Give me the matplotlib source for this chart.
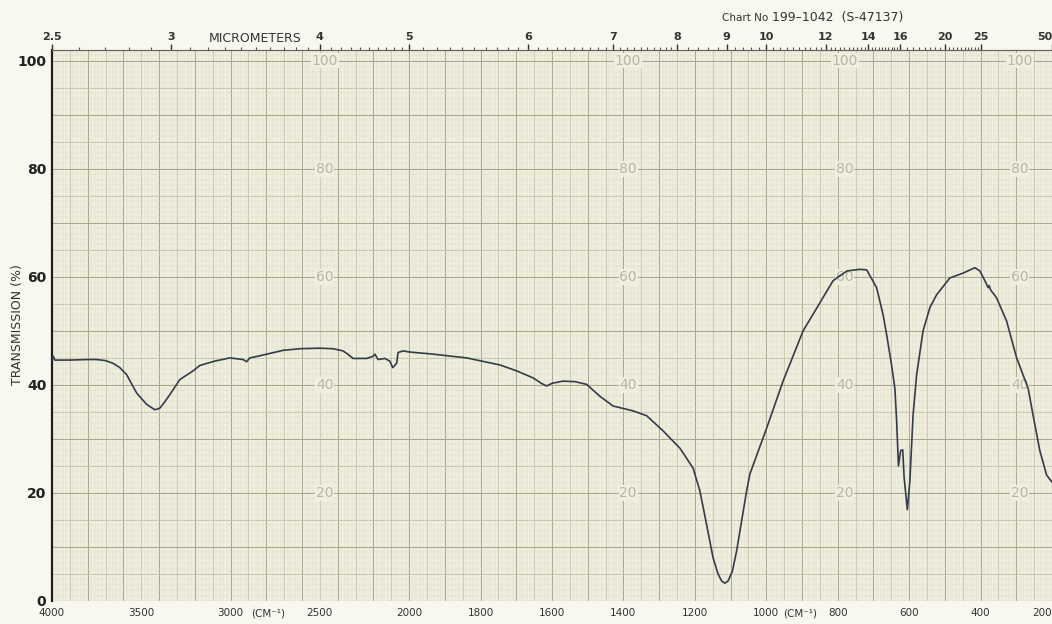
import numpy as np
import matplotlib
matplotlib.use("Agg")
import matplotlib.pyplot as plt

# ---------------- data ----------------
wavenumber = [4000, 3992, 3985, 3900, 3800, 3750, 3700, 3658, 3620, 3582, 3526, 3470,
              3424, 3396, 3370, 3340, 3284, 3210, 3172, 3090, 3004, 2930, 2910, 2892,
              2836, 2706, 2612, 2500, 2426, 2370, 2340, 2314, 2238, 2202, 2192, 2174,
              2136, 2108, 2092, 2070, 2062, 2034, 2000, 1933, 1839, 1746, 1699, 1653,
              1630, 1615, 1600, 1569, 1535, 1503, 1466, 1429, 1373, 1335, 1289, 1242,
              1205, 1186, 1167, 1149, 1135, 1125, 1116, 1107, 1095, 1083, 1055, 1046,
              999, 953, 897, 858, 813, 774, 738, 719, 691, 673, 663, 650, 640, 635,
              630, 624, 618, 614, 605, 598, 589, 579, 561, 542, 523, 486, 449, 416,
              402, 388, 383, 379, 376, 372, 355, 327, 299, 267, 253, 234, 215, 200]
transmission = [44.6, 45.3, 44.6, 44.6, 44.7, 44.7, 44.5, 44.0, 43.2, 41.9, 38.5, 36.4,
                35.4, 35.7, 36.8, 38.2, 41.0, 42.6, 43.6, 44.4, 45.0, 44.7, 44.3, 45.0,
                45.4, 46.4, 46.7, 46.8, 46.7, 46.3, 45.6, 44.9, 44.9, 45.3, 45.7, 44.7,
                44.9, 44.4, 43.2, 44.0, 46.0, 46.3, 46.1, 45.7, 45.0, 43.7, 42.6, 41.3,
                40.3, 39.8, 40.3, 40.7, 40.6, 40.1, 37.9, 36.1, 35.2, 34.3, 31.5, 28.3,
                24.6, 20.4, 14.1, 8.0, 5.0, 3.7, 3.3, 3.7, 5.5, 9.3, 20.4, 23.5,
                32.0, 40.7, 50.0, 54.3, 59.3, 61.1, 61.4, 61.3, 58.0, 53.0, 49.3, 44.0, 39.4, 33.3,
                25.0, 27.8, 28.0, 22.8, 16.9, 22.2, 34.4, 41.9, 50.0, 54.3, 56.7, 59.8, 60.7, 61.7,
                61.1, 59.3, 58.6, 58.0, 58.4, 57.6, 56.1, 51.8, 45.0, 39.4, 34.4, 27.8, 23.3, 22.0]

bottom_ticks = [4000, 3500, 3000, 2500, 2000, 1800, 1600, 1400, 1200, 1000, 800, 600, 400, 200]
y_ticks = [0, 20, 40, 60, 80, 100]
micron_ticks = [2.5, 3, 4, 5, 6, 7, 8, 9, 10, 12, 14, 16, 20, 25, 50]
micron_labels = ["2.5", "3", "4", "5", "6", "7", "8", "9", "10", "12", "14", "16", "20", "25", "50"]
inner_label_wn = [2472, 1387, 780, 290]
inner_label_vals = [20, 40, 60, 80, 100]

# ---------------- scale: 4000-2000 compressed 2x relative to 2000-200 ----------------
def fwd(w):
    w = np.asarray(w, float)
    return np.where(w < 2000, w, 2000 + (w - 2000) / 2.0)

def inv(p):
    p = np.asarray(p, float)
    return np.where(p < 2000, p, 2000 + 2.0 * (p - 2000))

W, H = 1052, 624
paper = "#f0eedf"
fig = plt.figure(figsize=(W / 100, H / 100), dpi=100, facecolor="#f8f7f0")
ax = fig.add_axes([52 / W, 23 / H, 1000 / W, 551 / H])
ax.set_xscale("function", functions=(fwd, inv))
ax.set_xlim(4000, 200)
ax.set_ylim(0, 102)
ax.set_facecolor(paper)

# ---------------- chart-paper grid ----------------
fine_c, med_c, heavy_c = "#d8d6c2", "#c0bea4", "#a9a78b"
v_fine = list(np.arange(2000, 4001, 20)) + list(np.arange(200, 2000, 10))
v_med = list(np.arange(2000, 4001, 100)) + list(np.arange(200, 2000, 50))
v_heavy = list(np.arange(2000, 4001, 200)) + list(np.arange(200, 2000, 100))
ax.vlines(v_fine, 0, 102, color=fine_c, lw=0.3, zorder=0)
ax.vlines(v_med, 0, 102, color=med_c, lw=0.5, zorder=0)
ax.vlines(v_heavy, 0, 102, color=heavy_c, lw=0.7, zorder=0)
ax.hlines(np.arange(0, 102, 1), 4000, 200, color=fine_c, lw=0.3, zorder=0)
ax.hlines(np.arange(0, 102, 5), 4000, 200, color=med_c, lw=0.5, zorder=0)
ax.hlines(np.arange(0, 101, 10), 4000, 200, color=heavy_c, lw=0.7, zorder=0)

# printed grey labels inside the paper
for wn in inner_label_wn:
    for v in inner_label_vals:
        ax.text(wn, v, str(v), ha="center", va="center", fontsize=10,
                color="#b8b6a2", zorder=1,
                bbox=dict(boxstyle="square,pad=0.05", fc=paper, ec="none"))

# ---------------- spectrum ----------------
ax.plot(wavenumber, transmission, color="#333c48", lw=1.2, zorder=3)

# ---------------- axes styling ----------------
for s in ["right", "bottom"]:
    ax.spines[s].set_visible(False)
ax.spines["left"].set_color("#1e1e1e")
ax.spines["left"].set_linewidth(1.6)
ax.spines["top"].set_color("#66665a")
ax.spines["top"].set_linewidth(0.8)

ax.set_yticks(y_ticks)
ax.set_yticklabels([str(v) for v in y_ticks], fontsize=10, fontweight="bold", color="#222222")
ax.tick_params(axis="y", length=0, pad=4)
ax.set_xticks(bottom_ticks)
xl = ax.set_xticklabels([str(v) for v in bottom_ticks], fontsize=7.5, color="#333333")
xl[-1].set_horizontalalignment("right")
ax.tick_params(axis="x", length=0, pad=5)
ax.xaxis.set_minor_locator(matplotlib.ticker.NullLocator())

fig.text(18 / W, 1 - 325 / H, "TRANSMISSION (%)", fontsize=9, color="#333333",
         rotation=90, ha="center", va="center")

# ---------------- micrometer axis on top ----------------
ax2 = ax.twiny()
ax2.set_xscale("function", functions=(fwd, inv))
ax2.set_xlim(4000, 200)
ax2.set_xticks([1e4 / u for u in micron_ticks])
tl = ax2.set_xticklabels(micron_labels, fontsize=8, color="#333333", fontweight="bold")
tl[-1].set_horizontalalignment("right")
minor_u = list(np.arange(2.6, 8.0, 0.1)) + list(np.arange(8.0, 16.0, 0.2)) + list(np.arange(16.0, 25.0, 0.5))
ax2.set_xticks([1e4 / u for u in minor_u], minor=True)
ax2.tick_params(axis="x", which="major", direction="out", length=4, width=1.0, pad=2, color="#333333")
ax2.tick_params(axis="x", which="minor", direction="out", length=2, width=0.8, color="#555555")
for s in ["right", "bottom", "left"]:
    ax2.spines[s].set_visible(False)
ax2.spines["top"].set_color("#66665a")
ax2.spines["top"].set_linewidth(0.8)

fig.text(255 / W, 1 - 38 / H, "MICROMETERS", fontsize=9, color="#333333",
         ha="center", va="center")
fig.text(722 / W, 1 - 18 / H, "Chart No", fontsize=7.5, color="#333333", ha="left", va="center")
fig.text(772 / W, 1 - 18 / H, "199\u20131042  (S-47137)", fontsize=9, color="#333333",
         ha="left", va="center")
fig.text(268 / W, 1 - 614 / H, "(CM\u207b\u00b9)", fontsize=7.5, color="#333333",
         ha="center", va="center")
fig.text(800 / W, 1 - 614 / H, "(CM\u207b\u00b9)", fontsize=7.5, color="#333333",
         ha="center", va="center")

fig.savefig("out.png", dpi=100, facecolor=fig.get_facecolor())
